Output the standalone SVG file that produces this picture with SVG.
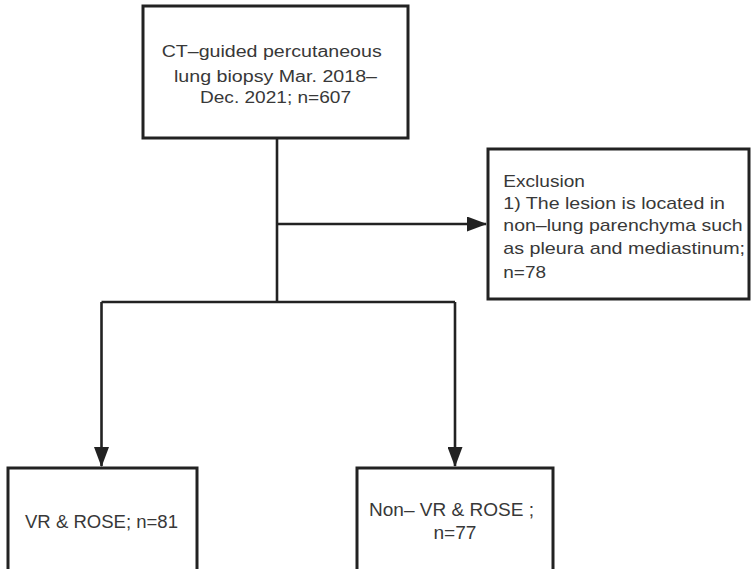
<svg xmlns="http://www.w3.org/2000/svg" width="751" height="569" viewBox="0 0 751 569">
<style>
.box{fill:#ffffff;stroke:#222222;stroke-width:3}
.conn{fill:none;stroke:#222222;stroke-width:2.6}
.t{font-family:"Liberation Sans","Noto Sans",Arial,sans-serif;font-size:16px;fill:#383838}
.t17{font-size:17px}
.t18{font-size:18px}
</style>
<defs>
<marker id="arr" markerUnits="userSpaceOnUse" markerWidth="20" markerHeight="15" refX="19" refY="7.5" orient="auto">
<path d="M0,0 L20,7.5 L0,15 Z" fill="#222222"/>
</marker>
</defs>
<rect width="751" height="569" fill="#ffffff"/>
<g id="connectors">
<path class="conn" d="M277,138 V302"/>
<path class="conn" d="M277,224 H486" marker-end="url(#arr)"/>
<path class="conn" d="M101.5,302 H455"/>
<path class="conn" d="M101.5,302 V466" marker-end="url(#arr)"/>
<path class="conn" d="M455,302 V466" marker-end="url(#arr)"/>
</g>
<g id="node-start">
<rect class="box" x="143" y="6" width="265" height="132"/>
<text class="t" x="161.7" y="57.3" textLength="220" lengthAdjust="spacingAndGlyphs">CT–guided percutaneous</text>
<text class="t" x="174" y="81.7" textLength="203" lengthAdjust="spacingAndGlyphs">lung biopsy Mar. 2018–</text>
<text class="t" x="200" y="102.7" textLength="151" lengthAdjust="spacingAndGlyphs">Dec. 2021; n=607</text>
</g>
<g id="node-exclusion">
<rect class="box" x="488" y="149" width="261" height="150"/>
<text class="t t17" x="503.3" y="186.7" textLength="81.7" lengthAdjust="spacingAndGlyphs">Exclusion</text>
<text class="t t17" x="503.3" y="208.6" textLength="221.7" lengthAdjust="spacingAndGlyphs">1) The lesion is located in</text>
<text class="t t17" x="503.3" y="231.3" textLength="239.4" lengthAdjust="spacingAndGlyphs">non–lung parenchyma such</text>
<text class="t t17" x="503.3" y="254.3" textLength="241.7" lengthAdjust="spacingAndGlyphs">as pleura and mediastinum;</text>
<text class="t t17" x="503.3" y="277.7" textLength="42.7" lengthAdjust="spacingAndGlyphs">n=78</text>
</g>
<g id="node-vr-rose">
<rect class="box" x="8" y="468" width="189" height="120"/>
<text class="t t18" x="25" y="528.3" textLength="153" lengthAdjust="spacingAndGlyphs">VR &amp; ROSE; n=81</text>
</g>
<g id="node-non-vr-rose">
<rect class="box" x="357" y="468" width="196" height="120"/>
<text class="t t18" x="369" y="516" textLength="165" lengthAdjust="spacingAndGlyphs">Non– VR &amp; ROSE ;</text>
<text class="t t18" x="433.4" y="539" textLength="43.1" lengthAdjust="spacingAndGlyphs">n=77</text>
</g>
</svg>
